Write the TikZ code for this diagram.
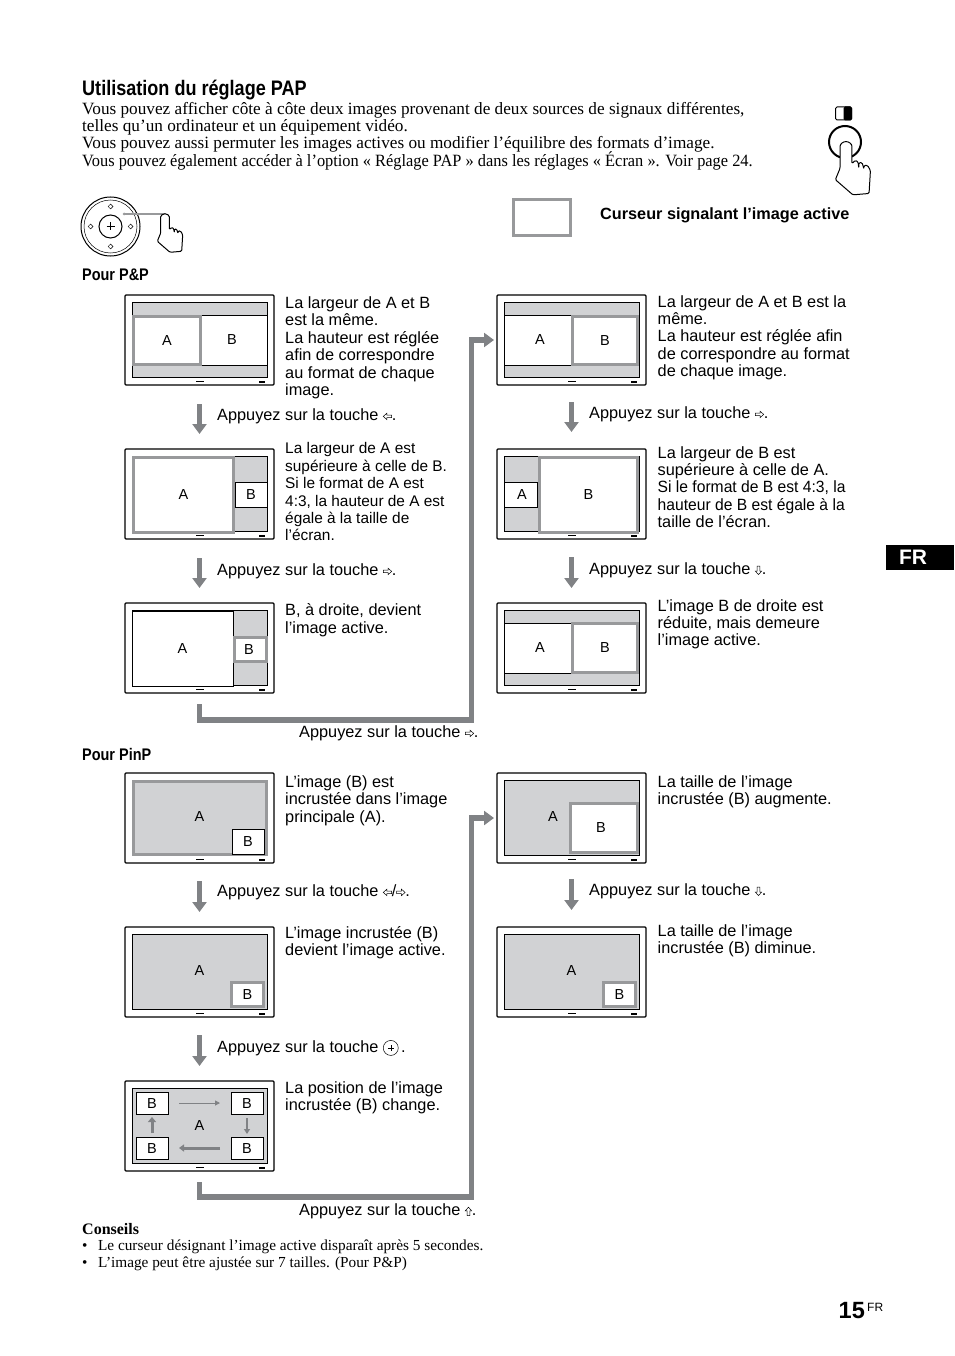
\documentclass[tikz,border=0pt]{standalone}
\usepackage{fontspec}
\setmainfont{Liberation Serif}
\setsansfont{Liberation Sans}
\newfontfamily\headfont[FakeStretch=0.86]{Liberation Sans}
\usepackage{xcolor}
\usepackage{graphicx}
\usepackage{tikz}
\usetikzlibrary{positioning, arrows.meta, calc, shapes.geometric}

\definecolor{cursorgray}{HTML}{98999B}
\definecolor{screengray}{HTML}{D1D2D4}
\definecolor{flowgray}{HTML}{808285}

% Outline arrow key inside a sentence: 0 points left, 180 right, -90 up, 90 down
\newcommand{\touche}[1]{\tikz[baseline=-3.8pt, x=1pt, y=1pt]{\draw[line width=.5pt, rotate=#1] (-4.2,0) -- (-.6,-3.2) -- (-.6,-1.3) -- (4.2,-1.3) -- (4.2,1.3) -- (-.6,1.3) -- (-.6,3.2) -- cycle;}}
\newcommand{\okkey}{\tikz[baseline=-4.5pt, x=1pt, y=1pt]{\draw[line width=.5pt] (0,0) circle (7.5); \draw[line width=.4pt] (-3,0) -- (3,0) (0,-3) -- (0,3);}}

% Monitor: case, screen and the two tiny marks under the screen
\newcommand{\monitor}[1]{%
    \node[screen] (#1s) at (#1) {};
    \fill ($(#1.south)+(-4,-4.5)$) rectangle ($(#1.south)+(4,-3.5)$);
    \fill ($(#1.south east)+(-15,-4.5)$) rectangle ($(#1.south east)+(-9,-2.5)$);
}
% Pane on a screen: style, name, x, y, width, height, label
\newcommand{\pane}[7]{%
    \node[#1, minimum width=#5pt, minimum height=#6pt, anchor=north west] (#2) at (#3,#4) {#7};
}

\tikzset{
    panel/.style={draw, fill=white, rounded corners=1pt, line width=1.2pt, minimum width=149pt, minimum height=90pt, inner sep=0pt, outer sep=0pt},
    screen/.style={draw, fill=screengray, line width=.9pt, minimum width=135pt, minimum height=75pt, inner sep=0pt, outer sep=0pt},
    plainpane/.style={draw, fill=white, line width=.8pt, inner sep=0pt, outer sep=0pt, font=\panefont},
    activepane/.style={draw=cursorgray, fill=white, line width=3pt, inner sep=0pt, outer sep=0pt, font=\panefont},
    panelabel/.style={inner sep=0pt, font=\panefont},
    desc/.style={anchor=north west, align=left, inner sep=0pt, font=\descfont},
    stepnote/.style={anchor=west, inner sep=0pt, font=\descfont},
    subhead/.style={anchor=west, inner sep=0pt, font=\headfont\bfseries\fontsize{16.8}{18}\selectfont},
    flowdown/.style={draw=flowgray, line width=5.5pt, -{Triangle[width=14pt,length=10pt]}},
    elbow/.style={draw=flowgray, line width=5.5pt, -{Triangle[width=14pt,length=10pt]}, shorten >=3pt, shorten <=11pt},
    handicon/.pic={
        \draw[fill=white, line width=1pt, line join=round, rounded corners=1.2pt]
            (-4.3,4) arc[start angle=180, end angle=360, radius=4.3] -- (4.3,15.7)
            -- (6.7,13.3) -- (8.7,14.3) -- (9.3,19) -- (9.3,15) -- (11.7,15) -- (13,19.7)
            -- (13,17) -- (15.7,17) -- (17.7,20.7) -- (16.7,37.3) -- (5,38.3)
            -- (-7.7,27.3) -- (-4.3,19) -- cycle;
    }
}
\newcommand{\panefont}{\sffamily\fontsize{14.5}{16}\selectfont}
\newcommand{\descfont}{\sffamily\fontsize{16.3}{17.4}\selectfont}

\begin{document}
\begin{tikzpicture}[x=1pt, y=-1pt, >=Stealth, on grid, node distance=154pt]
    \useasboundingbox (0,0) rectangle (954,1356);

    % --- Heading and introduction ---
    \node[anchor=west, inner sep=0pt, font=\headfont\bfseries\fontsize{21}{22}\selectfont] (title) at (82,90.5) {Utilisation du réglage PAP};
    \node[anchor=north west, align=left, inner sep=0pt, font=\rmfamily\fontsize{17.22}{17.3}\selectfont] (intro) at (82,102) {Vous pouvez afficher côte à côte deux images provenant de deux sources de signaux différentes,\\
        telles qu’un ordinateur et un équipement vidéo.\\
        Vous pouvez aussi permuter les images actives ou modifier l’équilibre des formats d’image.\\[-2pt]
        \scalebox{.951}[1]{Vous pouvez également accéder à l’option « Réglage PAP » dans les réglages « Écran ». Voir page 24.}};

    % --- Balance button, top right ---
    \node[draw, line width=1pt, rounded corners=1.5pt, minimum width=16pt, minimum height=13pt, inner sep=0pt] (balance) at (843.5,113.5) {};
    \fill[rounded corners=1.5pt] (balance.north) rectangle (balance.south east);
    \node[circle, draw, line width=2pt, minimum size=32pt, inner sep=0pt] (button) at (845,142) {};
    \pic[scale=1.38] at (846,142) {handicon};

    % --- Dial with its hand ---
    \node[circle, draw, line width=1pt, minimum size=59pt, inner sep=0pt] (dial) at (110.5,226.5) {};
    \node[circle, draw, line width=.5pt, minimum size=53pt, inner sep=0pt] (dialring) at (dial) {};
    \node[circle, draw, line width=1pt, minimum size=23pt, inner sep=0pt] (dialok) at (dial) {};
    \draw[line width=.6pt] ($(dial)+(-4,0)$) -- ($(dial)+(4,0)$) ($(dial)+(0,-4)$) -- ($(dial)+(0,4)$);
    \foreach \a in {0,90,180,270}
        \node[diamond, draw, line width=.5pt, minimum size=5pt, inner sep=0pt] (dialkey\a) at ($(dial)+(\a:20)$) {};
    \coordinate (dialpress) at (124,214);
    \coordinate (fingertip) at (165,214);
    \fill[cursorgray] (dialpress) circle (1.5);
    \draw[cursorgray, line width=1.5pt] (dialpress) -- (fingertip);
    \pic at (165,214) {handicon};

    % --- Cursor key ---
    \node[draw=cursorgray, line width=3pt, minimum width=57pt, minimum height=36pt, inner sep=0pt, outer sep=0pt] (cursor) at (542,217.5) {};
    \node[anchor=west, inner sep=0pt, font=\sffamily\bfseries\fontsize{16.25}{18}\selectfont] (cursortext) at (600,215.5) {Curseur signalant l’image active};

    % --- Pour P&P ---
    \node[subhead] (pp) at (82,275) {Pour P\&P};

    \node[panel] (p1) at (199.5,340) {};
    \node[panel, below=of p1] (p2) {};
    \node[panel, below=of p2] (p3) {};
    \node[panel, right=372pt of p1] (r1) {};
    \node[panel, below=of r1] (r2) {};
    \node[panel, below=of r2] (r3) {};
    \foreach \m in {p1,p2,p3,r1,r2,r3} {
        \monitor{\m}
    }

    \pane{plainpane}{p1b}{201}{315}{66}{50}{\hspace{-4pt}B}
    \pane{activepane}{p1a}{133.5}{316.5}{67}{48}{A}
    \pane{plainpane}{p2b}{235}{482}{32}{25}{B}
    \pane{activepane}{p2a}{133.5}{457.5}{100}{75}{A}
    \pane{plainpane}{p3a}{132}{611}{101}{75}{A}
    \pane{activepane}{p3b}{234.5}{637.5}{32}{24}{\hspace{-3pt}B}

    \pane{plainpane}{r1a}{504.5}{315}{67}{50}{\hspace{4pt}A}
    \pane{activepane}{r1b}{572.5}{316.5}{65}{48}{B}
    \pane{plainpane}{r2a}{504.5}{482}{33}{25}{\hspace{2pt}A}
    \pane{activepane}{r2b}{539.5}{457.5}{98}{75}{B}
    \pane{plainpane}{r3a}{504.5}{623}{67}{50}{\hspace{4pt}A}
    \pane{activepane}{r3b}{572.5}{623}{65}{49}{B}

    \node[desc] (p1text) at (285,296.5) {La largeur de A et B\\est la même.\\La hauteur est réglée\\afin de correspondre\\au format de chaque\\image.};
    \node[desc, font=\sffamily\fontsize{15.4}{17.4}\selectfont] (p2text) at (285,442.5) {La largeur de A est\\supérieure à celle de B.\\Si le format de A est\\4:3, la hauteur de A est\\égale à la taille de\\l’écran.};
    \node[desc] (p3text) at (285,603.5) {B, à droite, devient\\l’image active.};
    \node[desc] (r1text) at (657.5,295) {La largeur de A et B est la\\même.\\La hauteur est réglée afin\\de correspondre au format\\de chaque image.};
    \node[desc] (r2text) at (657.5,446) {La largeur de B est\\supérieure à celle de A.\\\scalebox{.96}[1]{Si le format de B est 4:3, la}\\\scalebox{.96}[1]{hauteur de B est égale à la}\\taille de l’écran.};
    \node[desc] (r3text) at (657.5,599) {L’image B de droite est\\réduite, mais demeure\\l’image active.};

    \draw[flowdown, shorten <=19pt, shorten >=15pt] (p1.south) -- (p2.north);
    \draw[flowdown, shorten <=19pt, shorten >=15pt] (p2.south) -- (p3.north);
    \draw[flowdown, shorten <=17pt, shorten >=17pt] (r1.south) -- (r2.north);
    \draw[flowdown, shorten <=18pt, shorten >=15pt] (r2.south) -- (r3.north);
    \node[stepnote] (p1step) at (217,416) {Appuyez sur la touche \touche{0}.};
    \node[stepnote] (p2step) at (217,571) {Appuyez sur la touche \touche{180}.};
    \node[stepnote] (r1step) at (589,414) {Appuyez sur la touche \touche{180}.};
    \node[stepnote] (r2step) at (589,570) {Appuyez sur la touche \touche{90}.};

    \coordinate (ppbend) at (471.5,720);
    \draw[elbow] (p3.south) |- (ppbend) |- (r1.west);
    \node[stepnote] (ppstep) at (299,733) {Appuyez sur la touche \touche{180}.};

    % --- Pour PinP ---
    \node[subhead] (pinp) at (82,754) {Pour PinP};

    \node[panel] (q1) at (199.5,818) {};
    \node[panel, below=of q1] (q2) {};
    \node[panel, below=of q2] (q3) {};
    \node[panel, right=372pt of q1] (s1) {};
    \node[panel, below=of s1] (s2) {};
    \foreach \m in {q1,q2,q3,s1,s2} {
        \monitor{\m}
    }

    % Main picture active in the first panel
    \draw[cursorgray, line width=3pt] ($(q1s.north west)+(1,1)$) rectangle ($(q1s.south east)+(-1,-1)$);
    \node[panelabel] (q1a) at (199.5,817) {A};
    \pane{plainpane}{q1b}{232}{829}{32}{25}{B}
    \node[panelabel] (q2a) at (199.5,971) {A};
    \pane{activepane}{q2b}{231.5}{982}{32}{24}{B}
    \node[panelabel] (q3a) at (199.5,1125) {A};
    \pane{plainpane}{q3tl}{136}{1092}{32}{22}{B}
    \pane{plainpane}{q3tr}{231}{1092}{32}{22}{B}
    \pane{plainpane}{q3bl}{136}{1137}{32}{22}{B}
    \pane{plainpane}{q3br}{231}{1137}{32}{22}{B}
    \draw[flowgray, line width=1pt, -{Triangle[width=5pt,length=5pt]}, shorten <=11pt, shorten >=11pt] (q3tl) -- (q3tr);
    \draw[flowgray, line width=2pt, -{Triangle[width=6pt,length=5pt]}, shorten <=4pt, shorten >=3pt] (q3tr) -- (q3br);
    \draw[flowgray, line width=3pt, -{Triangle[width=7pt,length=5pt]}, shorten <=11pt, shorten >=11pt] (q3br) -- (q3bl);
    \draw[flowgray, line width=3pt, -{Triangle[width=8pt,length=5pt]}, shorten <=4pt, shorten >=3pt] (q3bl) -- (q3tl);

    \node[panelabel] (s1a) at (553,817) {A};
    \pane{activepane}{s1b}{570.5}{803.5}{67}{49}{\hspace{-6pt}B}
    \node[panelabel] (s2a) at (571.5,971) {A};
    \pane{activepane}{s2b}{603.5}{982}{32}{24}{B}

    \node[desc] (q1text) at (285,775.5) {L’image (B) est\\incrustée dans l’image\\principale (A).};
    \node[desc] (q2text) at (285,926) {L’image incrustée (B)\\devient l’image active.};
    \node[desc] (q3text) at (285,1081) {La position de l’image\\incrustée (B) change.};
    \node[desc] (s1text) at (657.5,775) {La taille de l’image\\incrustée (B) augmente.};
    \node[desc] (s2text) at (657.5,924) {La taille de l’image\\incrustée (B) diminue.};

    \draw[flowdown, shorten <=18pt, shorten >=15pt] (q1.south) -- (q2.north);
    \draw[flowdown, shorten <=18pt, shorten >=15pt] (q2.south) -- (q3.north);
    \draw[flowdown, shorten <=16pt, shorten >=17pt] (s1.south) -- (s2.north);
    \node[stepnote] (q1step) at (217,892) {Appuyez sur la touche \touche{0}/\touche{180}.};
    \node[stepnote] (q2step) at (217,1048) {Appuyez sur la touche \okkey\,.};
    \node[stepnote] (s1step) at (589,891) {Appuyez sur la touche \touche{90}.};

    \coordinate (pinpbend) at (471.5,1197);
    \draw[elbow] (q3.south) |- (pinpbend) |- (s1.west);
    \node[stepnote] (pinpstep) at (299,1211) {Appuyez sur la touche \touche{-90}.};

    % --- Tips ---
    \node[anchor=west, inner sep=0pt, font=\rmfamily\bfseries\fontsize{16}{17}\selectfont] (tips) at (82,1229.5) {Conseils};
    \node[anchor=north west, align=left, inner sep=0pt, font=\rmfamily\fontsize{15.3}{17}\selectfont] (tiplist) at (82,1239.5) {•\hspace{10.5pt}Le curseur désignant l’image active disparaît après 5 secondes.\\
        •\hspace{10.5pt}L’image peut être ajustée sur 7 tailles. (Pour P\&P)};

    % --- Page marks ---
    \node[fill=black, text=white, inner sep=0pt, minimum width=68pt, minimum height=25pt, font=\sffamily\bfseries\fontsize{21}{22}\selectfont] (tab) at (920,557.5) {\hspace{-14pt}FR};
    \node[anchor=base west, inner sep=0pt, font=\sffamily\bfseries\fontsize{23.5}{26}\selectfont] (pagenum) at (838.5,1318) {15};
    \node[anchor=base west, inner sep=0pt, font=\sffamily\fontsize{12}{12}\selectfont] (pagelang) at (867,1311.5) {FR};
\end{tikzpicture}
\end{document}
